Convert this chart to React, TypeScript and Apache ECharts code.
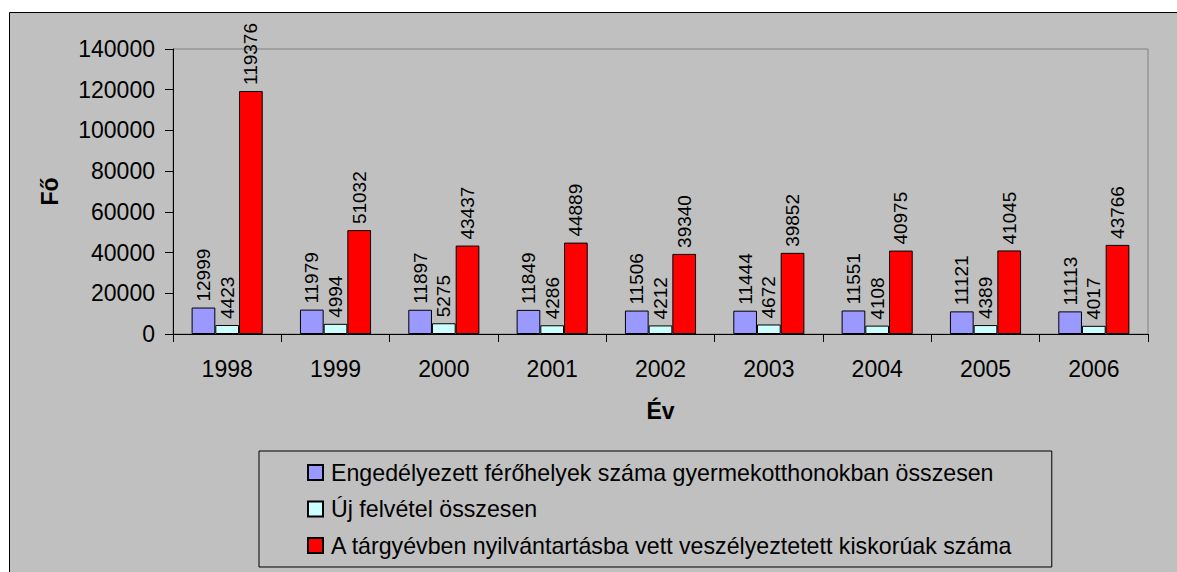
import React, { useEffect, useRef } from "react";
import * as echarts from "echarts";

const categories = ["1998", "1999", "2000", "2001", "2002", "2003", "2004", "2005", "2006"];
const engedelyezett = [12999, 11979, 11897, 11849, 11506, 11444, 11551, 11121, 11113];
const ujFelvetel = [4423, 4994, 5275, 4286, 4212, 4672, 4108, 4389, 4017];
const veszelyeztetett = [119376, 51032, 43437, 44889, 39340, 39852, 40975, 41045, 43766];
const seriesNames = [
  "Engedélyezett férőhelyek száma gyermekotthonokban összesen",
  "Új felvétel összesen",
  "A tárgyévben nyilvántartásba vett veszélyeztetett kiskorúak száma",
];
const seriesColors = ["#9999FF", "#CCFFFF", "#FF0000"];
const yMin = 0;
const yMax = 140000;
const yInterval = 20000;
const xTitle = "Év";
const yTitle = "Fő";

const FONT = "'Liberation Sans', Arial, sans-serif";

export default function App() {
  const ref = useRef<HTMLDivElement>(null);
  useEffect(() => {
    document.body.style.margin = "0";
    const chart = echarts.init(ref.current!, null, { renderer: "svg" });
    const dataSets = [engedelyezett, ujFelvetel, veszelyeztetett];
    chart.setOption({
      animation: false,
      backgroundColor: "#FFFFFF",
      textStyle: { fontFamily: FONT },
      graphic: [
        {
          type: "rect",
          z: -10,
          silent: true,
          shape: { x: 9.5, y: 12.5, width: 1300, height: 700 },
          style: { fill: "#C0C0C0", stroke: "#000000", lineWidth: 1 },
        },
      ],
      grid: {
        left: 173,
        top: 49,
        right: 29,
        bottom: 238,
        show: true,
        backgroundColor: "transparent",
        borderColor: "#808080",
        borderWidth: 1,
      },
      legend: {
        orient: "vertical",
        left: 259,
        top: 451,
        padding: [10, 39, 10, 48],
        itemGap: 13.5,
        itemWidth: 15,
        itemHeight: 15,
        icon: "rect",
        borderColor: "#000000",
        borderWidth: 1,
        backgroundColor: "transparent",
        textStyle: { fontSize: 23.2, color: "#000", fontFamily: FONT, padding: [0, 0, 0, 3] },
        data: seriesNames,
      },
      xAxis: {
        type: "category",
        data: categories,
        name: xTitle,
        nameLocation: "middle",
        nameGap: 65,
        nameTextStyle: { fontSize: 23, fontWeight: "bold", color: "#000", fontFamily: FONT },
        axisLine: { lineStyle: { color: "#000", width: 1 } },
        axisTick: { show: true, length: 8, lineStyle: { color: "#000" } },
        axisLabel: { fontSize: 23, color: "#000", margin: 23, fontFamily: FONT },
        splitLine: { show: false },
      },
      yAxis: {
        type: "value",
        min: yMin,
        max: yMax,
        interval: yInterval,
        name: yTitle,
        nameLocation: "middle",
        nameGap: 112,
        nameRotate: 90,
        nameTextStyle: { fontSize: 23, fontWeight: "bold", color: "#000", fontFamily: FONT },
        axisLine: { show: true, lineStyle: { color: "#000", width: 1 } },
        axisTick: { show: true, length: 8, lineStyle: { color: "#000" } },
        axisLabel: {
          fontSize: 23,
          color: "#000",
          margin: 18,
          fontFamily: FONT,
          formatter: (v: number) => String(v),
        },
        splitLine: { show: false },
      },
      series: dataSets.map((d, i) => ({
        name: seriesNames[i],
        type: "bar",
        data: d,
        barWidth: 23.7,
        barGap: "0%",
        itemStyle: { color: seriesColors[i], borderColor: "#000", borderWidth: 1 },
        label: {
          show: true,
          position: "top",
          rotate: 90,
          align: "left",
          verticalAlign: "middle",
          distance: 6,
          fontSize: 19,
          color: "#000",
          fontFamily: FONT,
        },
      })),
    });
    return () => chart.dispose();
  }, []);
  return <div ref={ref} style={{ width: 1177, height: 572 }} />;
}
